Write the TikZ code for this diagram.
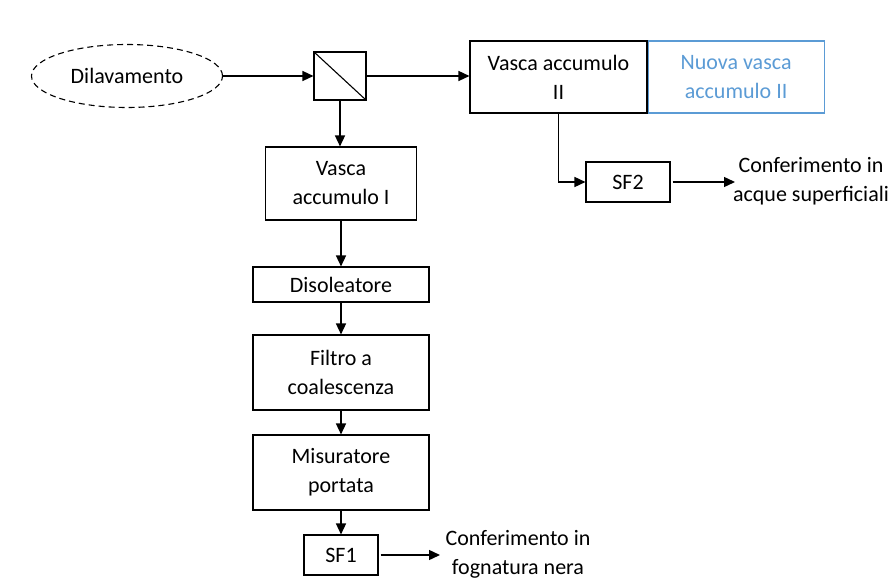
\documentclass[tikz,border=0pt]{standalone}
\usepackage{fontspec}
\setmainfont{Carlito}
\usetikzlibrary{shapes.geometric,arrows.meta}
\definecolor{newblue}{RGB}{91,155,213}
\begin{document}
\begin{tikzpicture}[x=1pt,y=-1pt,
  font=\fontsize{22}{29}\selectfont,
  box/.style={draw=black,line width=1.1pt,align=center,inner sep=0pt},
  arr/.style={-{Triangle[length=11pt,width=10pt]},line width=1.4pt},
  lbl/.style={align=center,inner sep=0pt}]
\useasboundingbox (0,0) rectangle (893,580);
\node[draw,dash pattern=on 6pt off 4pt,line width=1.1pt,ellipse,minimum width=191pt,minimum height=63pt,inner sep=0pt] (dil) at (127,76) {Dilavamento};
\node[box,minimum width=52pt,minimum height=48pt] (sep) at (340,76) {};
\draw[line width=1.1pt] (sep.north west) -- (sep.south east);
\node[box,minimum width=177pt,minimum height=72pt] (v2) at (558.5,77) {Vasca accumulo\\II};
\node[box,draw=newblue,text=newblue,minimum width=176pt,minimum height=72pt,anchor=west] (nv2) at (v2.east) {Nuova vasca\\accumulo II};
\node[box,minimum width=84pt,minimum height=40pt] (sf2) at (628,182) {SF2};
\node[lbl] (c2) at (811,181) {Conferimento in\\acque superficiali};
\coordinate (e2) at (735,182);
\node[box,minimum width=151pt,minimum height=73pt] (v1) at (341,183.5) {Vasca\\accumulo I};
\node[box,minimum width=176pt,minimum height=35pt] (dis) at (341,284.5) {Disoleatore};
\node[box,minimum width=176pt,minimum height=75pt] (fil) at (341,372.5) {Filtro a\\coalescenza};
\node[box,minimum width=176pt,minimum height=75pt] (mis) at (341,472.5) {Misuratore\\portata};
\node[box,minimum width=74pt,minimum height=40pt] (sf1) at (341,555) {SF1};
\node[lbl] (c1) at (518,554) {Conferimento in\\fognatura nera};
\coordinate (e1) at (440,555);
\draw[arr] (dil.east) -- (sep.west);
\draw[arr] (sep.east) -- (v2.west |- sep.east);
\draw[arr] (sep.south) -- (sep.south |- v1.north);
\draw[arr] (v2.south) |- (sf2.west);
\draw[arr] ([xshift=2pt]sf2.east) -- (e2);
\draw[arr] (v1.south) -- (dis.north);
\draw[arr] (dis.south) -- (fil.north);
\draw[arr] (fil.south) -- (mis.north);
\draw[arr] (mis.south) -- (sf1.north);
\draw[arr] ([xshift=2pt]sf1.east) -- (e1);
\end{tikzpicture}
\end{document}
